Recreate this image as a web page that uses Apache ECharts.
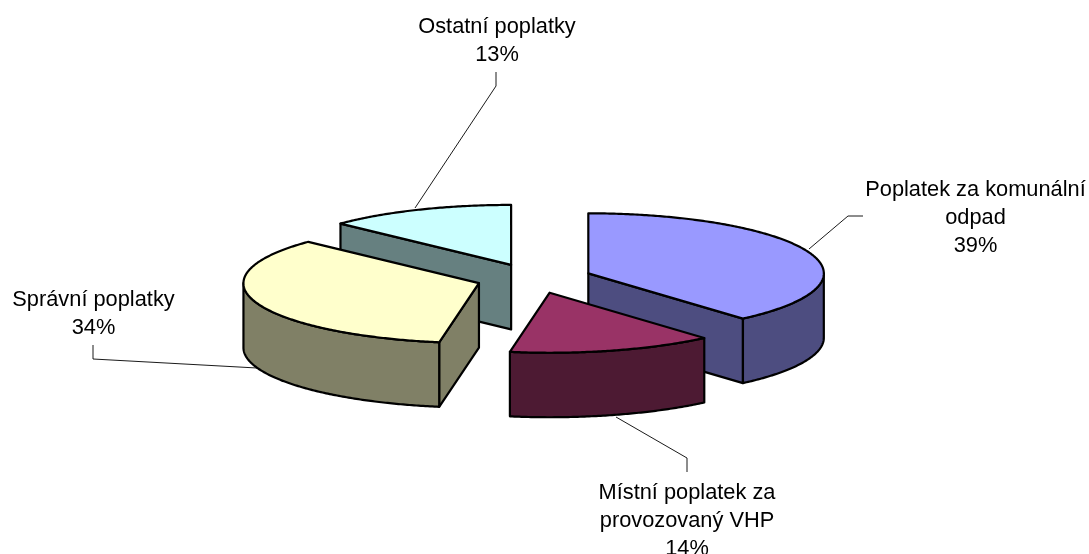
<!DOCTYPE html>
<html>
<head>
<meta charset="utf-8">
<style>
  html, body { margin: 0; padding: 0; background: #fff; }
  #chart { width: 1089px; height: 554px; }
</style>
<script src="https://cdn.jsdelivr.net/npm/echarts@6/dist/echarts.min.js"></script>
</head>
<body>
<div id="chart"></div>
<script>
const categories = ['Poplatek za komunální\nodpad', 'Místní poplatek za\nprovozovaný VHP', 'Správní poplatky', 'Ostatní poplatky'];
// podíly, po zaokrouhlení dají 39 / 14 / 34 / 13 %
const shares = [38.6, 14.1, 34.4, 12.9];
const topColors = ['#9999FF', '#993366', '#FFFFCC', '#CCFFFF'];
const sideColors = ['#4D4D80', '#4D1A33', '#808066', '#668080'];

// popisky: střed textu a účaří prvního řádku
const labelAnchors = [[975.5, 195], [687, 498], [93.5, 305], [497, 32]];
const leaderLines = [
  [[863, 216], [848, 216], [809, 249]],
  [[687, 472], [687, 458], [616, 417]],
  [[93, 345], [93, 359], [257, 368]],
  [[496, 72], [496, 86], [415, 208]]
];

// geometrie koláče
const cx = 534, cy = 278.5, rx = 235.5, ry = 60, depth = 64.5, explode = 58;
const total = shares.reduce((a, b) => a + b, 0);

function rimPoint(apex, angle, dy) {
  return [apex[0] + rx * Math.sin(angle), apex[1] - ry * Math.cos(angle) + dy];
}

function arcPoints(apex, from, to, dy) {
  const pts = [];
  const steps = Math.max(2, Math.ceil((to - from) / 0.01));
  for (let i = 0; i <= steps; i++) {
    pts.push(rimPoint(apex, from + (to - from) * i / steps, dy));
  }
  return pts;
}

function renderSlice(params, api) {
  const i = params.dataIndex;
  const start = shares.slice(0, i).reduce((a, b) => a + b, 0) / total * Math.PI * 2;
  const end = start + api.value(0) / total * Math.PI * 2;
  const mid = (start + end) / 2;
  const apex = [cx + explode * Math.sin(mid), cy - explode * ry / rx * Math.cos(mid)];
  const apexLow = [apex[0], apex[1] + depth];
  // zadní výseče se kreslí první
  const base = Math.round(apex[1]) * 10;
  const line = { stroke: '#000', lineWidth: 2.2, lineJoin: 'round' };
  const children = [];

  // boční řezy, jen ty otočené k divákovi
  const faces = [];
  if (Math.sin(start) < -0.001) faces.push(start);
  if (Math.sin(end) > 0.001) faces.push(end);
  faces.forEach((a) => {
    children.push({
      type: 'polygon',
      z2: base + 1,
      shape: { points: [apex, rimPoint(apex, a, 0), rimPoint(apex, a, depth), apexLow] },
      style: Object.assign({ fill: sideColors[i] }, line)
    });
  });

  // přední plášť, jen část mezi 90° a 270°
  const wallFrom = Math.max(start, Math.PI / 2);
  const wallTo = Math.min(end, Math.PI * 3 / 2);
  if (wallTo > wallFrom) {
    children.push({
      type: 'polygon',
      z2: base + 2,
      shape: { points: arcPoints(apex, wallFrom, wallTo, 0).concat(arcPoints(apex, wallFrom, wallTo, depth).reverse()) },
      style: Object.assign({ fill: sideColors[i] }, line)
    });
  }

  // horní plocha
  children.push({
    type: 'polygon',
    z2: base + 3,
    shape: { points: [apex].concat(arcPoints(apex, start, end, 0)) },
    style: Object.assign({ fill: topColors[i] }, line)
  });

  // vodicí čára a popisek
  children.push({
    type: 'polyline',
    z2: 1,
    shape: { points: leaderLines[i] },
    style: { fill: null, stroke: '#000', lineWidth: 0.9 }
  });
  children.push({
    type: 'text',
    z2: 5000,
    style: {
      x: labelAnchors[i][0],
      y: labelAnchors[i][1] - 19.5,
      text: categories[i] + '\n' + Math.round(api.value(0) / total * 100) + '%',
      align: 'center',
      verticalAlign: 'top',
      fill: '#000',
      fontFamily: 'Liberation Sans',
      fontSize: 21.8,
      lineHeight: 28
    }
  });

  return { type: 'group', children: children };
}

const chart = echarts.init(document.getElementById('chart'));
chart.setOption({
  animation: false,
  backgroundColor: '#fff',
  series: [
    {
      type: 'custom',
      coordinateSystem: 'none',
      renderItem: renderSlice,
      data: shares.map((v) => [v]),
      silent: true
    }
  ]
});
</script>
</body>
</html>
